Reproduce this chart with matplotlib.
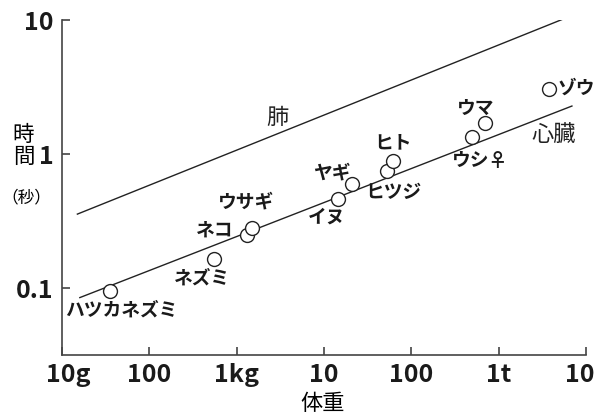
import matplotlib
matplotlib.use("Agg")
from matplotlib import pyplot as plt
from matplotlib.transforms import ScaledTranslation

plt.rcParams['font.family'] = ['Noto Sans CJK JP', 'DejaVu Sans']

# animals: body weight (g) and time (s)
animals = ["ハツカネズミ", "ネズミ", "ネコ", "ウサギ", "イヌ", "ヤギ",
           "ヒツジ", "ヒト", "ウシ♀", "ウマ", "ゾウ"]
weight_g = [35, 550, 1300, 1500, 14500, 21000, 53000, 62000, 500000, 690000, 3800000]
time_s = [0.095, 0.165, 0.25, 0.28, 0.46, 0.60, 0.75, 0.89, 1.33, 1.70, 3.04]

# fitted lines (end points)
lung_x = [15, 6.2e6]
lung_y = [0.356, 10.5]
heart_x = [16, 6.9e6]
heart_y = [0.0848, 2.28]

xticks = [1e1, 1e2, 1e3, 1e4, 1e5, 1e6, 1e7]
xticklabels = ["10g", "100", "1kg", "10", "100", "1t", "10"]
yticks = [0.1, 1, 10]
yticklabels = ["0.1", "1", "10"]

# label offsets in pixels (dx, dy up)
label_off = [(12, -19), (-12, -19), (-32, 5), (-6, 26), (-11, -18), (-20, 11),
             (6, -22), (0, 18), (8, -23), (-9, 15), (27, 1)]

fig = plt.figure(figsize=(5.98, 4.16), dpi=100)
ax = fig.add_axes([62 / 598, 61 / 416, 524 / 598, 335 / 416])
ax.set_xscale("log")
ax.set_yscale("log")
ax.set_xlim(1e1, 1e7)
ax.set_ylim(10 ** -1.5, 10)

ax.plot(lung_x, lung_y, color="#222222", lw=1.0)
ax.plot(heart_x, heart_y, color="#222222", lw=1.0)
ax.plot(weight_g, time_s, "o", ms=10, mfc="white", mec="#222222", mew=1.0, zorder=3)

for name, x, y, (dx, dy) in zip(animals, weight_g, time_s, label_off):
    ax.annotate(name, (x, y), xytext=(dx, dy), textcoords="offset pixels",
                ha="center", va="center", fontsize=13.5, fontweight="bold",
                color="#1a1a1a")

ax.text(2.9e3, 1.86, "肺", fontsize=16, ha="center", va="center", color="#222222")
ax.text(4.3e6, 1.39, "心臓", fontsize=16, ha="center", va="center", color="#222222")

for s in ["top", "right"]:
    ax.spines[s].set_visible(False)
for s in ["left", "bottom"]:
    ax.spines[s].set_color("#444444")
    ax.spines[s].set_linewidth(1.2)

ax.set_xticks(xticks)
ax.set_xticklabels(xticklabels, fontsize=18, fontweight="bold", color="#1a1a1a")
ax.set_yticks(yticks)
ax.set_yticklabels(yticklabels, fontsize=18, fontweight="bold", color="#1a1a1a")
ax.minorticks_off()
ax.tick_params(axis="x", direction="in", length=6, width=1.2, color="#444444", pad=6)
ax.tick_params(axis="y", direction="in", length=6, width=1.2, color="#444444", pad=6)

# nudge the end labels like the original: "10g" right, last "10" left
labs = ax.get_xticklabels()
labs[0].set_transform(labs[0].get_transform() + ScaledTranslation(0.06, 0, fig.dpi_scale_trans))
labs[-1].set_transform(labs[-1].get_transform() + ScaledTranslation(-0.06, 0, fig.dpi_scale_trans))

fig.text(323 / 598, 1 - 403 / 416, "体重", fontsize=16, ha="center", va="center")
fig.text(23 / 598, 1 - 135 / 416, "時", fontsize=15.5, ha="center", va="center")
fig.text(24 / 598, 1 - 157 / 416, "間", fontsize=15.5, ha="center", va="center")
fig.text(26 / 598, 1 - 198 / 416, "（秒）", fontsize=12, ha="center", va="center")

fig.savefig("out.png", dpi=100)
